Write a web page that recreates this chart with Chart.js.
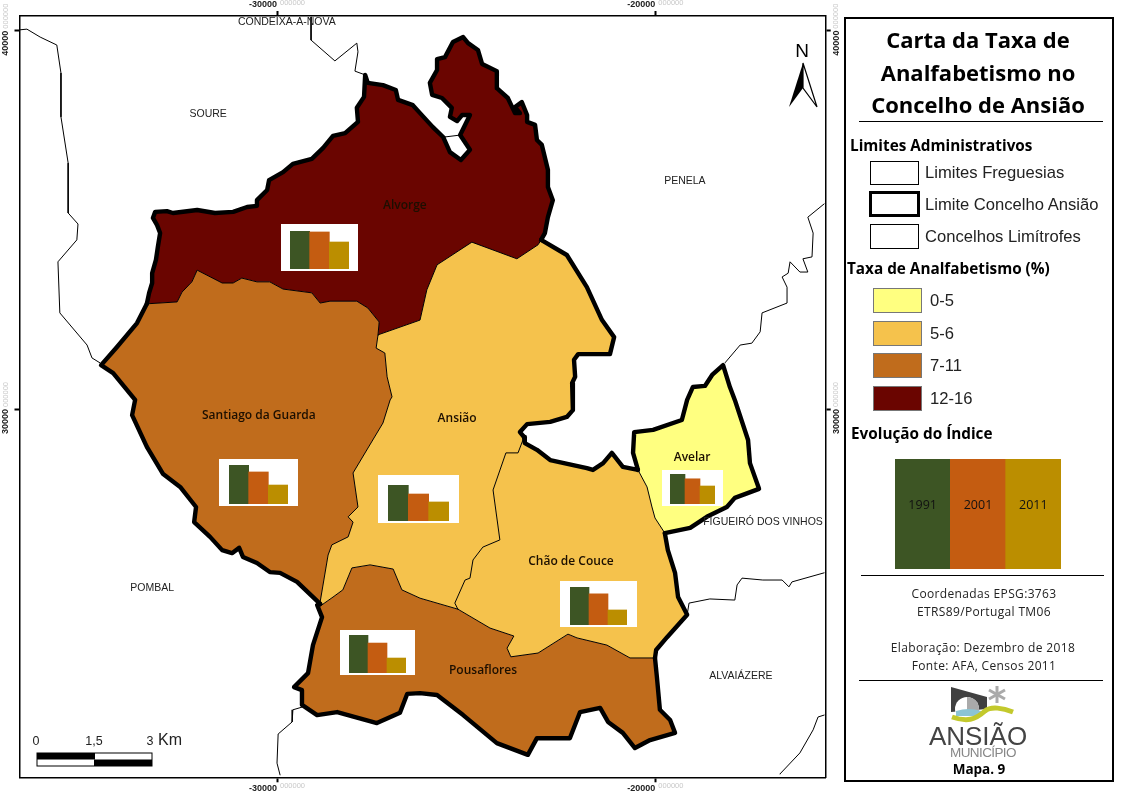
<!DOCTYPE html>
<html lang="pt">
<head>
<meta charset="utf-8">
<title>Carta da Taxa de Analfabetismo no Concelho de Ansião</title>
<script src="https://cdn.jsdelivr.net/npm/chart.js@4"></script>
<style>
  html, body { margin: 0; padding: 0; background: #fff; }
  #page { position: relative; width: 1123px; height: 794px; overflow: hidden; font-family: "Liberation Sans", sans-serif; color: #000; }
  #map { position: absolute; left: 0; top: 0; }
  .abs { position: absolute; white-space: nowrap; line-height: 1; }
  .ctr { transform: translate(-50%, -50%); }
  .mid { transform: translateY(-50%); }
  .head { font: bold 15.3px "Open Sans", sans-serif; }
  .item { font-size: 16.6px; color: #222; }
  .rule { position: absolute; height: 1px; background: #000; }
  .note { font: 12px "Open Sans", sans-serif; letter-spacing: .35px; color: #222; }
  .box { position: absolute; background: #fff; }
  .sw { position: absolute; left: 873px; width: 47px; height: 23px; border: 1px solid #777; }
  .lim { position: absolute; left: 870px; width: 47px; background: #fff; border: 1px solid #000; }
  #panel { position: absolute; left: 844px; top: 17px; width: 266px; height: 761px; border: 2.5px solid #000; }
  .title { font: bold 22px "Open Sans", sans-serif; }
  .small-label { font-size: 12.5px; color: #222; }
</style>
</head>
<body>
<div id="page">
  <canvas id="map" width="845" height="794"></canvas>

  <div class="abs ctr small-label" style="left:36px;top:741px">0</div>
  <div class="abs ctr small-label" style="left:94px;top:741px">1,5</div>
  <div class="abs ctr small-label" style="left:150px;top:741px">3</div>
  <div class="abs ctr" style="left:170px;top:740px;font-size:16px;color:#222">Km</div>
  <svg class="abs" style="left:36px;top:752px" width="118" height="16">
    <rect x="1" y="1" width="115" height="13" fill="#fff" stroke="#000"/>
    <rect x="1" y="1" width="58" height="6.5" fill="#000"/>
    <rect x="58" y="7.5" width="58" height="6.5" fill="#000"/>
  </svg>

  <div class="abs ctr" style="left:802px;top:50px;font-size:19px">N</div>
  <svg class="abs" style="left:785px;top:60px" width="36" height="50">
    <path d="M18 3 L4 47 L18 28 Z" fill="#000"/>
    <path d="M18 3 L32 47 L18 28 Z" fill="#fff" stroke="#000" stroke-width="1.2"/>
  </svg>

  <div id="panel"></div>
  <div class="abs ctr title" style="left:978px;top:39px">Carta da Taxa de</div>
  <div class="abs ctr title" style="left:978px;top:72px">Analfabetismo no</div>
  <div class="abs ctr title" style="left:978px;top:104px">Concelho de Ansião</div>
  <div class="rule" style="left:859px;top:121px;width:244px"></div>

  <div class="abs mid head" style="left:850px;top:145px">Limites Administrativos</div>
  <div class="lim" style="top:161px;height:22px"></div>
  <div class="lim" style="left:869px;top:191px;height:20px;width:45px;border:3px solid #000"></div>
  <div class="lim" style="top:224px;height:23px"></div>
  <div class="abs mid item" style="left:925px;top:173px">Limites Freguesias</div>
  <div class="abs mid item" style="left:925px;top:205px">Limite Concelho Ansião</div>
  <div class="abs mid item" style="left:925px;top:237px">Concelhos Limítrofes</div>

  <div class="abs mid head" style="left:847px;top:268px">Taxa de Analfabetismo (%)</div>
  <div class="sw" style="top:288px;background:#FFFF80"></div>
  <div class="sw" style="top:321px;background:#F5C24C"></div>
  <div class="sw" style="top:353px;background:#C06C1C"></div>
  <div class="sw" style="top:386px;background:#6A0500"></div>
  <div class="abs mid item" style="left:930px;top:301px">0-5</div>
  <div class="abs mid item" style="left:930px;top:334px">5-6</div>
  <div class="abs mid item" style="left:930px;top:366px">7-11</div>
  <div class="abs mid item" style="left:930px;top:399px">12-16</div>

  <div class="abs mid head" style="left:851px;top:433px">Evolução do Índice</div>
  <canvas id="legendBars" width="166" height="110" style="position:absolute;left:895px;top:459px"></canvas>

  <div class="rule" style="left:861px;top:575px;width:243px"></div>
  <div class="abs ctr note" style="left:984px;top:593px">Coordenadas EPSG:3763</div>
  <div class="abs ctr note" style="left:984px;top:611px">ETRS89/Portugal TM06</div>
  <div class="abs ctr note" style="left:983px;top:647px">Elaboração: Dezembro de 2018</div>
  <div class="abs ctr note" style="left:984px;top:665px">Fonte: AFA, Censos 2011</div>
  <div class="rule" style="left:859px;top:680px;width:244px"></div>

  <svg class="abs" style="left:945px;top:684px" width="75" height="42">
    <path d="M6 3 L42 13 L42 25 L6 28 Z" fill="#404040"/>
    <circle cx="22" cy="25" r="12" fill="#fff"/>
    <path d="M22 13 A12 12 0 0 1 34 25 L34 28 L22 28 Z" fill="#aaa"/>
    <path d="M11 27 Q24 23 36 27 L36 32 L11 32 Z" fill="#8cc4d4"/>
    <path d="M7 33 C22 38 30 36 40 27 C46 22 58 24 68 28" fill="none" stroke="#C3C92C" stroke-width="5"/>
    <g stroke="#aaa" stroke-width="3">
      <line x1="52" y1="2" x2="52" y2="19"/><line x1="44" y1="6" x2="60" y2="15"/><line x1="44" y1="15" x2="60" y2="6"/>
    </g>
  </svg>
  <div class="abs ctr" style="left:978px;top:736px;font-size:26px;color:#444">ANSIÃO</div>
  <div class="abs ctr" style="left:983px;top:753px;font-size:13.5px;color:#888;letter-spacing:-.6px">MUNICÍPIO</div>
  <div class="abs ctr" style="left:979px;top:769px;font:bold 13.5px 'Open Sans',sans-serif">Mapa. 9</div>
</div>

<script>
// eixos em metros (ETRS89 / Portugal TM06)
const xTicks = [-30000, -20000];
const yTicks = [40000, 30000];
const xRange = [-36806, -15498];
const yRange = [20266, 40387];

const freguesias = ['Alvorge', 'Santiago da Guarda', 'Ansião', 'Chão de Couce', 'Pousaflores', 'Avelar'];
const anos = ['1991', '2001', '2011'];
const corFreguesia = ['#6A0500', '#C06C1C', '#F5C24C', '#F5C24C', '#C06C1C', '#FFFF80'];
const corAno = ['#3D5524', '#C45C11', '#BB8E00'];

// taxa de analfabetismo por ano
const taxa1991 = [19.7, 18.5, 10.4, 13.9, 20.3, 7.5];
const taxa2001 = [19.2, 15.2, 7.8, 11.4, 16.0, 6.3];
const taxa2011 = [14.0, 9.0, 5.5, 5.5, 8.0, 4.5];

// troços de limite, em metros
const alvorgeOeste = [[-33440,32780],[-33380,33070],[-33300,33330],[-33300,33590],[-33200,33940],[-33150,34280],[-33090,34650],[-33170,34860],[-33280,35050],[-33220,35210],[-32910,35230],[-32750,35180],[-32110,35260],[-31640,35180],[-31160,35210],[-30790,35340],[-30530,35370],[-30530,35520],[-30260,35790],[-30210,36050],[-29840,36260],[-29580,36480],[-29080,36610],[-28780,36900],[-28520,37220],[-28200,37290],[-27860,37590],[-27890,37960],[-27700,38250],[-27670,38830],[-27600,38620],[-27200,38560],[-26860,38430],[-26800,38170],[-26410,38030],[-26220,37820],[-25880,37450],[-25610,37190],[-25430,36790],[-25140,36580],[-24900,36850],[-25160,37240],[-24900,37770],[-25110,37770],[-25240,37610],[-25430,37720],[-25380,37960],[-25640,38220],[-25900,38300],[-25960,38620],[-25770,38960],[-25770,39250],[-25560,39300],[-25350,39700],[-25080,39830],[-24950,39670],[-24690,39490],[-24580,39120],[-24190,38930],[-24190,38480],[-23900,38220],[-23710,37820],[-23580,37820],[-23710,37980],[-23530,38110],[-23390,37770],[-23390,37590],[-23180,37510],[-23130,37110],[-23000,36980],[-22840,36320],[-22840,35870],[-22710,35520],[-22840,35070],[-22920,34650],[-23020,34470]];
const alvorgeSantiago = [[-33440,32780],[-32640,32830],[-32510,33090],[-32250,33360],[-32110,33670],[-31450,33330],[-31160,33330],[-30930,33460],[-30530,33360],[-30190,33360],[-29840,33170],[-29080,33070],[-28860,32800],[-28600,32850],[-27890,32850],[-27600,32670],[-27300,32300],[-27330,31960]];
const alvorgeAnsiao = [[-27330,31960],[-26220,32350],[-26040,33150],[-25770,33810],[-24850,34410],[-23660,33970],[-23100,34340],[-23020,34470]];
const ansiaoEste = [[-23020,34470],[-22340,34070],[-21810,33220],[-21410,32350],[-21090,31900],[-21200,31450],[-22040,31450],[-22150,31300],[-22120,30850],[-22200,30690],[-22180,29970],[-22340,29790],[-22780,29660],[-23390,29600],[-23580,29390],[-23470,29260]];
const chaoNorte = [[-23470,29260],[-23450,29100],[-23130,28920],[-22780,28650],[-21810,28440],[-21650,28390],[-21380,28570],[-21150,28840],[-20860,28470],[-20460,28390]];
const avelarFora = [[-20460,28390],[-20590,28840],[-20560,29390],[-20060,29450],[-19300,29710],[-19160,30240],[-19010,30580],[-18690,30610],[-18500,30900],[-18210,31160],[-18030,30580],[-17900,30240],[-17550,29180],[-17500,28570],[-17260,27890],[-17900,27650],[-18110,27410],[-18640,27150],[-19080,26860],[-19750,26720]];
const avelarChao = [[-20460,28390],[-20220,27940],[-20090,27410],[-20010,27120],[-19750,26720]];
const chaoEste = [[-19750,26720],[-19670,26270],[-19480,25670],[-19400,25030],[-19160,24560],[-19690,23970],[-19980,23630],[-20010,23420]];
const pousafloresFora = [[-20010,23420],[-19960,22920],[-19880,22050],[-19610,21780],[-19480,21440],[-20140,21250],[-20540,21040],[-20860,21440],[-21250,21730],[-21460,22100],[-21990,21990],[-22260,21300],[-23130,21300],[-23370,20860],[-24190,21170],[-25080,21910],[-25770,22440],[-26220,22490],[-26560,22470],[-26750,21970],[-27360,21700],[-28410,21990],[-28940,21910],[-29340,22180],[-29340,22570],[-29550,22650],[-29180,23020],[-29050,23760],[-28810,24500],[-28940,24820],[-28860,24850]];
const santiagoFora = [[-28860,24850],[-29470,25430],[-29920,25670],[-30190,25690],[-30530,25930],[-30900,26090],[-31000,26330],[-31190,26190],[-31450,26270],[-31770,26620],[-32190,27010],[-32140,27410],[-32560,27940],[-33010,28280],[-33440,29000],[-33830,29840],[-33750,30240],[-34330,30950],[-34650,31160],[-34230,31640],[-33700,32270],[-33440,32780]];
const santiagoAnsiao = [[-27330,31960],[-27380,31610],[-27150,31480],[-27090,30850],[-26960,30320],[-27010,30240],[-27200,29630],[-27990,28310],[-27860,27410],[-28120,27150],[-27990,27010],[-28120,26620],[-28550,26410],[-28650,26140],[-28860,24900]];
const ansiaoPousaflores = [[-28860,24790],[-28520,25030],[-28260,25220],[-28020,25800],[-27540,25880],[-26930,25770],[-26700,25220],[-26220,25000],[-25220,24710]];
const ansiaoChao = [[-23470,29260],[-23630,28840],[-23950,28840],[-24290,27860],[-24110,26540],[-24560,26350],[-24820,26010],[-24900,25530],[-25030,25480],[-25300,24870],[-25220,24710]];
const chaoPousaflores = [[-25220,24710],[-24370,24210],[-23740,24000],[-23920,23680],[-23820,23450],[-23100,23550],[-22310,24050],[-22070,23950],[-21280,23760],[-20670,23420],[-20010,23420]];
const enclaveAlvorge = [[-25560,37190],[-25160,37240]];

// concelhos limitrofes
const limiteSoure = [[-36810,40020],[-36610,40040],[-36260,39830],[-35820,39620],[-35710,38880],[-35710,37720],[-35520,36500],[-35520,35180],[-35260,34890],[-35290,34470],[-35790,33890],[-35740,32540],[-35020,31690],[-34890,31350],[-34680,31220]];
const limiteCondeixa = [[-29100,40360],[-29100,39750],[-28470,39200],[-27890,39670],[-27860,39440],[-27940,38930],[-27670,38830]];
const limitePenela = [[-18160,31220],[-17760,31690],[-17450,31740],[-17230,32040],[-17180,32540],[-16520,32800],[-16520,33220],[-16650,33490],[-16490,33590],[-16440,33890],[-16180,33620],[-15970,33620],[-16100,33970],[-15860,34020],[-15830,34650],[-15970,35070],[-15540,35420]];
const limiteFigueiro = [[-19160,24560],[-19110,24870],[-18560,24980],[-17900,24950],[-17840,25350],[-17710,25530],[-17160,25480],[-16650,25480],[-16470,25300],[-16390,25430],[-15540,25670]];
const limiteAlvaiazere = [[-16710,20350],[-16180,20910],[-15830,21520],[-15700,21860],[-15540,21910]];
const limitePombal = [[-29340,22120],[-29580,22050],[-29600,21730],[-29970,21410],[-30000,20640],[-29920,20330]];

// etiquetas do mapa
const concelhos = ['CONDEIXA-A-NOVA', 'SOURE', 'PENELA', 'POMBAL', 'FIGUEIRÓ DOS VINHOS', 'ALVAIÁZERE'];
const concelhoX = [-29740, -31820, -19220, -33300, -17155, -17740];
const concelhoY = [40230, 37800, 36030, 25270, 27010, 22940];
const nomeX = [-26620, -30480, -25240, -22230, -24555, -19030];
const nomeY = [35370, 29820, 29760, 25980, 23080, 28710];

const ptsDe = seg => seg.map(p => ({ x: p[0], y: p[1] }));
const inv = seg => seg.slice().reverse();

const poligonos = [
  [alvorgeOeste, inv(alvorgeAnsiao), inv(alvorgeSantiago)],
  [alvorgeSantiago, santiagoAnsiao, santiagoFora],
  [alvorgeAnsiao, ansiaoEste, ansiaoChao, inv(ansiaoPousaflores), inv(santiagoAnsiao)],
  [chaoNorte, avelarChao, chaoEste, inv(chaoPousaflores), inv(ansiaoChao)],
  [ansiaoPousaflores, chaoPousaflores, pousafloresFora],
  [avelarFora, inv(avelarChao)]
];

const datasets = [];
const linha = (seg, w) => datasets.push({
  data: ptsDe(seg), showLine: true, pointRadius: 0, borderColor: '#000', borderWidth: w,
  borderJoinStyle: 'round', borderCapStyle: 'round', tension: 0, fill: false
});

// contorno do concelho em cima de tudo
[alvorgeOeste, ansiaoEste, chaoNorte, avelarFora, chaoEste, pousafloresFora, santiagoFora].forEach(s => linha(s, 4.4));
[alvorgeSantiago, alvorgeAnsiao, santiagoAnsiao, ansiaoPousaflores, ansiaoChao, chaoPousaflores, avelarChao, enclaveAlvorge,
 limiteSoure, limiteCondeixa, limitePenela, limiteFigueiro, limiteAlvaiazere, limitePombal].forEach(s => linha(s, 1));
poligonos.forEach((partes, i) => datasets.push({
  label: freguesias[i], data: ptsDe(partes.flat()), showLine: true, pointRadius: 0, borderWidth: 0,
  backgroundColor: corFreguesia[i], fill: 'shape', tension: 0
}));

const tickFont = { family: 'Liberation Sans', size: 9, weight: 'bold' };
const eixo = (pos, range, ticks, extra) => ({
  type: 'linear', position: pos, min: range[0], max: range[1],
  afterBuildTicks: ax => { ax.ticks = ticks.map(v => ({ value: v })); },
  border: { display: true, color: '#000', width: 1.5 },
  grid: { drawOnChartArea: false, color: '#000', tickColor: '#000', tickWidth: 2, tickLength: 5 },
  ticks: Object.assign({ autoSkip: false, font: tickFont, color: '#222', padding: 1, callback: v => String(v) }, extra)
});
const fixar = (eixoCfg, prop, v) => { eixoCfg.afterFit = ax => { ax[prop] = v; }; return eixoCfg; };

// etiquetas de texto e zeros cinzentos junto das marcas dos eixos
const etiquetas = {
  id: 'etiquetas',
  afterDraw(chart) {
    const { ctx, scales: { x, y } } = chart;
    ctx.save();
    ctx.textAlign = 'center';
    ctx.textBaseline = 'middle';
    ctx.fillStyle = '#222';
    ctx.font = '10.5px "Liberation Sans"';
    concelhos.forEach((t, i) => ctx.fillText(t, x.getPixelForValue(concelhoX[i]), y.getPixelForValue(concelhoY[i])));
    ctx.fillStyle = '#1c0f00';
    ctx.font = '600 12px "Open Sans"';
    freguesias.forEach((t, i) => ctx.fillText(t, x.getPixelForValue(nomeX[i]), y.getPixelForValue(nomeY[i])));
    ctx.fillStyle = '#c8c8c8';
    ctx.font = '7.5px "Liberation Sans"';
    ctx.textAlign = 'left';
    xTicks.forEach(v => {
      const px = x.getPixelForValue(v) + 3;
      ctx.fillText('000000', px, 3);
      ctx.fillText('000000', px, 786);
    });
    yTicks.forEach(v => {
      const py = y.getPixelForValue(v);
      [6, 836].forEach(px => {
        ctx.save();
        ctx.translate(px, py - 2);
        ctx.rotate(-Math.PI / 2);
        ctx.fillText('000000', 0, 0);
        ctx.restore();
      });
    });
    ctx.restore();
  }
};

new Chart(document.getElementById('map'), {
  type: 'scatter',
  data: { datasets },
  plugins: [etiquetas],
  options: {
    responsive: false,
    animation: false,
    layout: { padding: 0 },
    plugins: { legend: { display: false }, tooltip: { enabled: false } },
    scales: {
      x: fixar(eixo('bottom', xRange, xTicks, { maxRotation: 0, minRotation: 0, labelOffset: -14 }), 'height', 16.7),
      xTop: fixar(Object.assign(eixo('top', xRange, xTicks, { maxRotation: 0, minRotation: 0, labelOffset: -14 }), { axis: 'x' }), 'height', 16),
      y: fixar(eixo('left', yRange, yTicks, { minRotation: 90, maxRotation: 90, labelOffset: 0, padding: 9 }), 'width', 19.5),
      yRight: fixar(Object.assign(eixo('right', yRange, yTicks, { minRotation: 90, maxRotation: 90, labelOffset: 25, padding: 6 }), { axis: 'y' }), 'width', 19.3)
    }
  }
});

// graficos pequenos: caixa branca e barras
const caixas = [
  { box: [281, 224, 77, 47], bars: [290, 231, 59, 38] },
  { box: [219, 459, 79, 47], bars: [229, 465, 59, 39] },
  { box: [378, 475, 81, 48], bars: [388, 485, 61, 36] },
  { box: [560, 581, 77, 46], bars: [570, 587, 57, 38] },
  { box: [340, 630, 75, 45], bars: [349, 635, 57, 38] },
  { box: [662, 470, 61, 36], bars: [670, 474, 45, 30] }
];

const page = document.getElementById('page');
const grafico = (canvas, values, max, extraPlugins) => new Chart(canvas, {
  type: 'bar',
  data: { labels: anos, datasets: [{ data: values, backgroundColor: corAno, barPercentage: 1, categoryPercentage: 1, borderWidth: 0 }] },
  plugins: extraPlugins || [],
  options: {
    responsive: false,
    animation: false,
    layout: { padding: 0 },
    plugins: { legend: { display: false }, tooltip: { enabled: false } },
    scales: {
      x: { display: false, grid: { display: false } },
      y: { display: false, min: 0, max: max, grid: { display: false } }
    }
  }
});

caixas.forEach((c, i) => {
  const fundo = document.createElement('div');
  fundo.className = 'box';
  fundo.style.cssText = `left:${c.box[0]}px;top:${c.box[1]}px;width:${c.box[2]}px;height:${c.box[3]}px`;
  page.appendChild(fundo);
  const cv = document.createElement('canvas');
  cv.width = c.bars[2];
  cv.height = c.bars[3];
  cv.style.cssText = `position:absolute;left:${c.bars[0]}px;top:${c.bars[1]}px`;
  page.appendChild(cv);
  grafico(cv, [taxa1991[i], taxa2001[i], taxa2011[i]], taxa1991[i]);
});

// legenda da evolucao: tres barras iguais com o ano
const legendaValores = [1, 1, 1];
const anosDentro = {
  id: 'anosDentro',
  afterDraw(chart) {
    const { ctx, scales: { x } } = chart;
    ctx.save();
    ctx.textAlign = 'center';
    ctx.textBaseline = 'middle';
    ctx.fillStyle = '#111';
    ctx.font = '12.5px "Open Sans"';
    anos.forEach((a, i) => ctx.fillText(a, x.getPixelForValue(i), 46));
    ctx.restore();
  }
};
grafico(document.getElementById('legendBars'), legendaValores, 1, [anosDentro]);
</script>
</body>
</html>
